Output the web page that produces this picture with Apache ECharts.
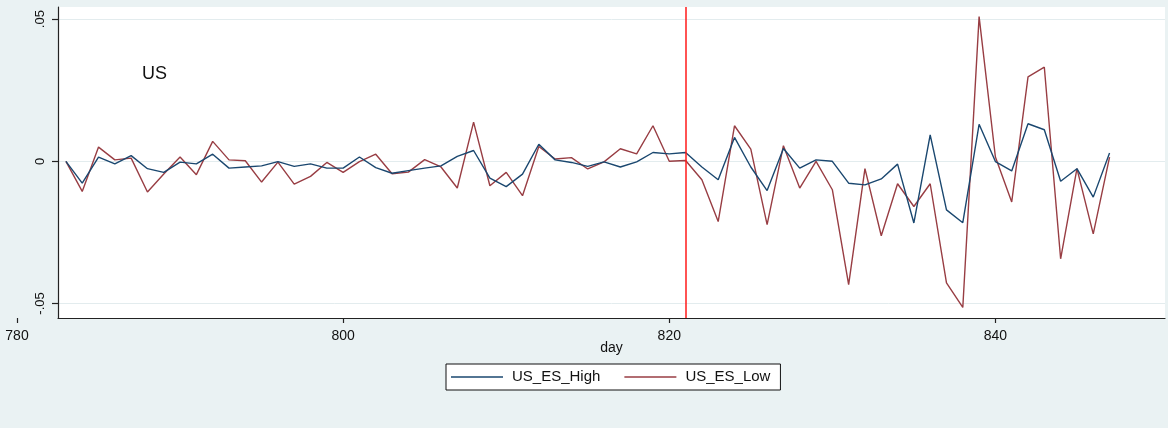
<!DOCTYPE html>
<html>
<head>
<meta charset="utf-8">
<script src="https://cdn.jsdelivr.net/npm/echarts@6/dist/echarts.min.js"></script>
<style>
html,body{margin:0;padding:0;background:#eaf2f3;}
#c{width:1168px;height:428px;}
</style>
</head>
<body>
<div id="c"></div>
<script>
// ---- data ----
const days = [783,784,785,786,787,788,789,790,791,792,793,794,795,796,797,798,799,800,
  801,802,803,804,805,806,807,808,809,810,811,812,813,814,815,816,817,818,819,820,
  821,822,823,824,825,826,827,828,829,830,831,832,833,834,835,836,837,838,839,840,
  841,842,843,844,845,846,847];
const usEsHigh = [0.0000,-0.0077,0.0015,-0.0009,0.0020,-0.0026,-0.0039,-0.0003,-0.0009,0.0025,
  -0.0024,-0.0020,-0.0016,-0.0001,-0.0018,-0.0009,-0.0024,-0.0024,0.0015,-0.0022,
  -0.0042,-0.0033,-0.0024,-0.0016,0.0017,0.0038,-0.0059,-0.0089,-0.0045,0.0060,
  0.0005,-0.0004,-0.0018,-0.0002,-0.0020,-0.0002,0.0031,0.0026,0.0031,-0.0020,
  -0.0065,0.0084,-0.0020,-0.0103,0.0045,-0.0024,0.0005,0.0000,-0.0077,-0.0083,
  -0.0062,-0.0010,-0.0217,0.0093,-0.0171,-0.0216,0.0130,-0.0001,-0.0034,0.0132,
  0.0111,-0.0070,-0.0026,-0.0126,0.0029];
const usEsLow = [0.0000,-0.0106,0.0050,0.0005,0.0011,-0.0108,-0.0045,0.0015,-0.0047,0.0070,
  0.0005,0.0002,-0.0073,-0.0003,-0.0080,-0.0053,-0.0004,-0.0039,-0.0001,0.0025,
  -0.0044,-0.0038,0.0006,-0.0020,-0.0094,0.0138,-0.0086,-0.0039,-0.0121,0.0052,
  0.0008,0.0013,-0.0027,-0.0002,0.0044,0.0026,0.0125,0.0000,0.0003,-0.0065,
  -0.0212,0.0125,0.0043,-0.0223,0.0055,-0.0094,0.0000,-0.0100,-0.0434,-0.0026,
  -0.0262,-0.0079,-0.0159,-0.0079,-0.0428,-0.0514,0.0509,0.0015,-0.0143,0.0297,
  0.0331,-0.0343,-0.0026,-0.0255,0.0015];
const xTickValues = [780, 800, 820, 840];
const yTickValues = [-0.05, 0, 0.05];
const yTickLabels = ['-.05', '0', '.05'];
const eventDay = 821;
const seriesNames = ['US_ES_High', 'US_ES_Low'];

// ---- layout ----
const W = 1168, H = 428;
const axisX0 = 17, plotLeft = 58, plotRight = 1165, plotTop = 7, plotBottom = 318;
const xMin = 780, xMax = 850.4;
const pxPerDay = (plotRight - axisX0) / (xMax - xMin);
const plotXMin = xMin + (plotLeft - axisX0) / pxPerDay;
const yMin = -0.055118, yMax = 0.054274;
const FONT = 'Liberation Sans, Arial, sans-serif';

const chart = echarts.init(document.getElementById('c'), null, {renderer: 'canvas'});
const pairs = arr => days.map((d, i) => [d, arr[i]]);

chart.setOption({
  backgroundColor: '#eaf2f3',
  animation: false,
  textStyle: {fontFamily: FONT},
  grid: [
    {left: plotLeft, right: W - plotRight, top: plotTop, bottom: H - plotBottom,
     show: true, backgroundColor: '#ffffff', borderWidth: 0},
    {left: axisX0, right: W - plotRight, top: plotTop, bottom: H - plotBottom, show: false}
  ],
  xAxis: [
    {type: 'value', gridIndex: 0, min: plotXMin, max: xMax, position: 'bottom',
     axisLine: {show: true, onZero: false, lineStyle: {color: '#222', width: 1.2}},
     axisTick: {show: false}, axisLabel: {show: false}, splitLine: {show: false}},
    {type: 'value', gridIndex: 1, min: xMin, max: xMax, interval: 20, position: 'bottom',
     axisLine: {show: false, onZero: false},
     axisTick: {show: true, length: 5, inside: false, lineStyle: {color: '#222', width: 1.2},
                customValues: xTickValues},
     axisLabel: {show: true, color: '#111', fontSize: 14, margin: 11, fontFamily: FONT,
                 customValues: xTickValues},
     splitLine: {show: false}}
  ],
  yAxis: [
    {type: 'value', gridIndex: 0, min: yMin, max: yMax,
     axisLine: {show: true, onZero: false, lineStyle: {color: '#222', width: 1.2}},
     axisTick: {show: true, length: 6, inside: false, lineStyle: {color: '#222', width: 1.2},
                customValues: yTickValues},
     axisLabel: {show: true, rotate: 90, color: '#111', fontSize: 13, margin: 11, fontFamily: FONT,
                 customValues: yTickValues,
                 formatter: v => { const i = yTickValues.findIndex(t => Math.abs(t - v) < 1e-9); return i >= 0 ? yTickLabels[i] : ''; }},
     splitLine: {show: true, lineStyle: {color: '#e3ecee', width: 1}}},
    {type: 'value', gridIndex: 1, min: yMin, max: yMax, show: false,
     axisLine: {onZero: false}}
  ],
  legend: {
    data: [{name: seriesNames[0], icon: 'rect'}, {name: seriesNames[1], icon: 'rect'}],
    left: 446, top: 364,
    orient: 'horizontal',
    backgroundColor: '#ffffff', borderColor: '#111', borderWidth: 1, borderRadius: 0,
    padding: [5, 10, 5, 5],
    itemWidth: 52, itemHeight: 1.5, itemGap: 24,
    textStyle: {fontSize: 15, color: '#111', fontFamily: FONT, padding: [0, 0, 0, 4], lineHeight: 16}
  },
  graphic: [
    {type: 'text', left: 142, top: 65, style: {text: 'US', fontSize: 18, fill: '#111', fontFamily: FONT}},
    {type: 'text', x: (plotLeft + plotRight) / 2, y: 348,
     style: {text: 'day', fontSize: 14, fill: '#111', fontFamily: FONT, textAlign: 'center', textVerticalAlign: 'middle'}}
  ],
  series: [
    {name: seriesNames[0], type: 'line', xAxisIndex: 0, yAxisIndex: 0, data: pairs(usEsHigh),
     symbol: 'none', lineStyle: {color: '#1a476f', width: 1.4}, itemStyle: {color: '#1a476f'}, z: 3},
    {name: seriesNames[1], type: 'line', xAxisIndex: 0, yAxisIndex: 0, data: pairs(usEsLow),
     symbol: 'none', lineStyle: {color: '#983d43', width: 1.4}, itemStyle: {color: '#983d43'}, z: 2,
     markLine: {silent: true, symbol: 'none', label: {show: false},
                lineStyle: {color: '#ff1a1a', width: 1.5, type: 'solid'},
                data: [{xAxis: eventDay}]}}
  ]
});
</script>
</body>
</html>
